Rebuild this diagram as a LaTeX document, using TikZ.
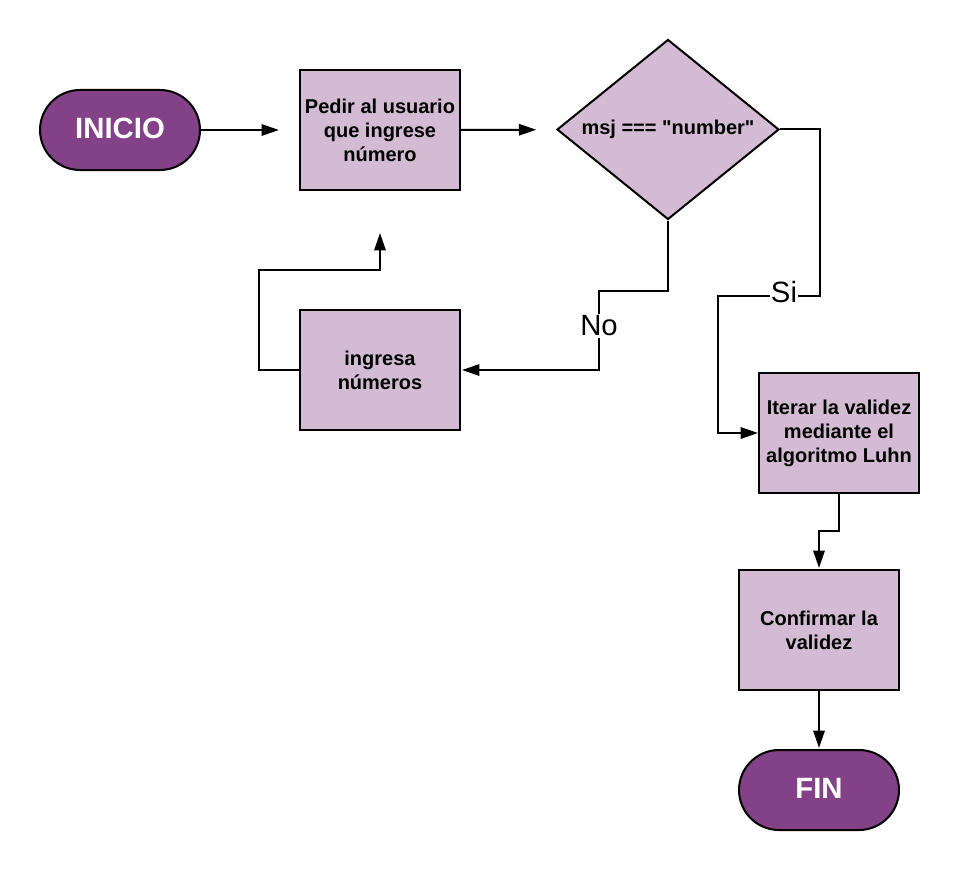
\documentclass[tikz,border=0pt]{standalone}
\usepackage{fontspec}
\setmainfont{Liberation Sans}[Ligatures=TeXOff]
\usetikzlibrary{shapes.geometric,arrows.meta}
\definecolor{boxfill}{HTML}{D3BBD3}
\definecolor{termfill}{HTML}{834187}
\begin{document}
\begin{tikzpicture}[x=0.75pt,y=-0.75pt,
  procbox/.style={draw=black,line width=1.5pt,fill=boxfill,minimum width=120pt,minimum height=90pt,inner sep=0pt,align=center,font=\fontsize{15}{18}\selectfont\bfseries},
  term/.style={draw=black,line width=1.5pt,fill=termfill,rounded corners=30pt,minimum width=120pt,minimum height=60pt,inner sep=0pt,text=white,font=\fontsize{22}{26}\selectfont\bfseries},
  decision/.style={draw=black,line width=1.5pt,fill=boxfill,diamond,aspect=1.233,minimum width=166.5pt,minimum height=135pt,inner sep=0pt,font=\fontsize{15}{18}\selectfont\bfseries},
  conn/.style={draw=black,line width=1.5pt,-{Triangle[length=13pt,width=8.5pt]}},
  lbl/.style={fill=white,inner sep=1pt,font=\fontsize{22}{26}\selectfont}
]
\useasboundingbox (0,0) rectangle (959,870);
\node[term] (inicio) at (120,130) {\raisebox{2pt}{INICIO}};
\node[procbox] (box1) at (380,130) {Pedir al usuario\\que ingrese\\número};
\node[decision] (dec) at (668,129.5) {msj === "number"};
\node[procbox] (box2) at (380,370) {ingresa\\números};
\node[procbox] (box3) at (839,433) {Iterar la validez\\mediante el\\algoritmo Luhn};
\node[procbox] (box4) at (819,630) {Confirmar la\\validez};
\node[term] (fin) at (819,790) {\raisebox{2pt}{FIN}};

\coordinate (no1) at (599,291);
\coordinate (si1) at (820,296);
\coordinate (si2) at (718,296);
\coordinate (lp1) at (259,270);
\coordinate (lp2) at (819,531);

\draw[conn,shorten >=15pt] (inicio) -- (box1);
\draw[conn,shorten >=15pt] (box1) -- (dec);
\draw[conn,shorten >=0.75pt] (dec.south) |- (no1) |- (box2.east);
\draw[conn] (dec.east) -| (si1) -- (si2) |- (box3.west);
\draw[conn,shorten >=31.5pt] (box2.west) -| (lp1) -| (box1.south);
\draw[conn,shorten >=0.75pt] (box3.south) |- (lp2) -- (box4.north);
\draw[conn,shorten >=0.75pt] (box4.south) -- (fin.north);

\node[lbl] (nolbl) at (599,326) {No};
\node[lbl] (silbl) at (784,292) {Si};
\end{tikzpicture}
\end{document}
